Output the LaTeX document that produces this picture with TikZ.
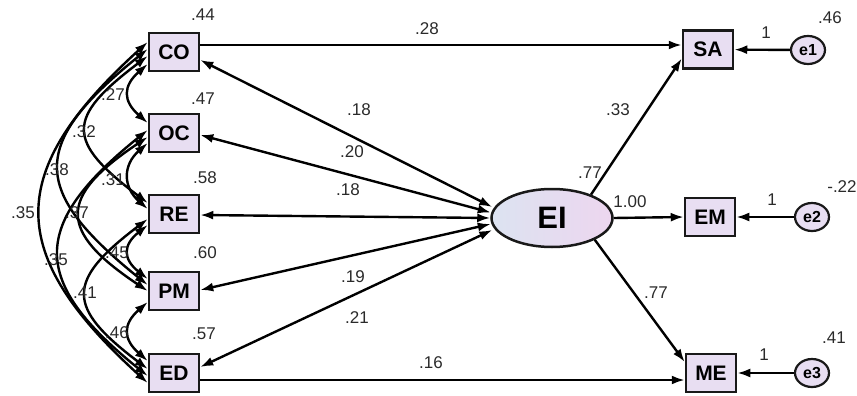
\documentclass[tikz,border=0pt]{standalone}
\usepackage{fontspec}
\setmainfont{Liberation Sans}
\usetikzlibrary{arrows.meta,shapes.geometric,calc}
\definecolor{boxfill}{HTML}{E8DEF2}
\definecolor{eileft}{HTML}{DCE3F1}
\definecolor{eiright}{HTML}{EDD6EF}
\definecolor{numcol}{HTML}{2A2A2A}
\tikzset{
  var/.style={draw=black!90,line width=2.5pt,fill=boxfill,minimum width=50pt,minimum height=38pt,inner sep=0pt,font=\fontsize{21}{21}\selectfont\bfseries},
  errc/.style={ellipse,draw=black!90,line width=2.2pt,fill=boxfill,minimum width=34pt,minimum height=28pt,inner sep=0pt,font=\fontsize{16}{16}\selectfont\bfseries},
  num/.style={font=\fontsize{17}{17}\selectfont,text=numcol,inner sep=0pt},
  tip/.tip={Latex[length=13pt,width=9pt]},
  path1/.style={line width=2.4pt,-tip},
  cov/.style={line width=2.4pt,tip-tip},
}
\begin{document}
\begin{tikzpicture}[x=1pt,y=-1pt]
\useasboundingbox (0,0) rectangle (857,396);
% observed variables
\node[var] (CO) at (174,52) {CO};
\node[var] (OC) at (174,133) {OC};
\node[var] (RE) at (174,214) {RE};
\node[var] (PM) at (174,291) {PM};
\node[var] (ED) at (174,373) {ED};
\node[var] (SA) at (708,49.5) {SA};
\node[var] (EM) at (710,217) {EM};
\node[var] (ME) at (711,373) {ME};
\node[ellipse,draw=black!90,line width=2.5pt,left color=eileft,right color=eiright,minimum width=121pt,minimum height=58pt,inner sep=0pt,font=\fontsize{31}{31}\selectfont\bfseries] (EI) at (552,218) {EI};
\node[errc] (e1) at (808,50) {e1};
\node[errc] (e2) at (812,217) {e2};
\node[errc] (e3) at (812,373) {e3};

% covariances among left variables
\draw[cov] ($(CO.west)+(0,12)$) .. controls +(-25,22) and +(-25,-22) .. ($(OC.west)+(0,-10)$);
\draw[cov] ($(OC.west)+(0,10)$) .. controls +(-25,22) and +(-25,-22) .. ($(RE.west)+(0,-5)$);
\draw[cov] ($(RE.west)+(0,11)$) .. controls +(-25,20) and +(-25,-20) .. ($(PM.west)+(0,-12)$);
\draw[cov] ($(PM.west)+(0,11)$) .. controls +(-25,22) and +(-25,-22) .. ($(ED.west)+(0,-12)$);
\draw[cov] ($(CO.west)+(0,4)$) .. controls +(-82,62) and +(-82,-62) .. ($(RE.west)+(0,-11)$);
\draw[cov] ($(OC.west)+(0,4)$) .. controls +(-90,60) and +(-90,-60) .. ($(PM.west)+(0,0)$);
\draw[cov] ($(RE.west)+(0,5)$) .. controls +(-82,62) and +(-82,-62) .. ($(ED.west)+(0,-4)$);
\draw[cov] ($(CO.west)+(0,-3)$) .. controls +(-118,95) and +(-118,-95) .. ($(PM.west)+(0,-6)$);
\draw[cov] ($(OC.west)+(0,-3)$) .. controls +(-118,95) and +(-118,-95) .. ($(ED.west)+(0,3)$);
\draw[cov] ($(CO.west)+(0,-10)$) .. controls +(-143,130) and +(-143,-130) .. ($(ED.west)+(0,10)$);

% covariances with EI
\draw[cov] ($(CO.east)+(0,8)$) -- ($(EI.west)+(2,-11)$);
\draw[cov] ($(OC.east)+(0,2)$) -- ($(EI.west)+(0.5,-5.5)$);
\draw[cov] ($(RE.east)+(0,1)$) -- ($(EI.west)+(0,0)$);
\draw[cov] ($(PM.east)+(0,-1)$) -- ($(EI.west)+(0.5,6)$);
\draw[cov] ($(ED.east)+(0,-6)$) -- ($(EI.west)+(2,12)$);

% regressions
\draw[path1] ($(CO.east)+(0,-7)$) -- ($(SA.west)+(0,-4.5)$);
\draw[path1] ($(ED.east)+(0,7)$) -- ($(ME.west)+(0,7)$);
\draw[path1] (EI.31) -- ($(SA.west)+(0,9)$);
\draw[path1] (EI.east) -- (EM.west);
\draw[path1] (EI.-27) -- ($(ME.west)+(0,-11)$);
\draw[path1] (e1) -- (SA);
\draw[path1] (e2) -- (EM);
\draw[path1] (e3) -- (ME);

% numbers
\node[num] (n1) at (203,15) {.44};
\node[num] (n2) at (203,99) {.47};
\node[num] (n3) at (205,178) {.58};
\node[num] (n4) at (205,253) {.60};
\node[num] (n5) at (204,334) {.57};
\node[num] (n6) at (113,95) {.27};
\node[num] (n7) at (84,132) {.32};
\node[num] (n8) at (57,170) {.38};
\node[num] (n9) at (23,213) {.35};
\node[num] (n10) at (77,213) {.37};
\node[num] (n11) at (113,180) {.31};
\node[num] (n12) at (117,253) {.45};
\node[num] (n13) at (56,260) {.35};
\node[num] (n14) at (85,293) {.41};
\node[num] (n15) at (117,333) {.46};
\node[num] (n16) at (427,29) {.28};
\node[num] (n17) at (359,110) {.18};
\node[num] (n18) at (352,152) {.20};
\node[num] (n19) at (348,190) {.18};
\node[num] (n20) at (353,277) {.19};
\node[num] (n21) at (357,318) {.21};
\node[num] (n22) at (431,363) {.16};
\node[num] (n23) at (618,110) {.33};
\node[num] (n24) at (590,173) {.77};
\node[num] (n25) at (630,202) {1.00};
\node[num] (n26) at (656,293) {.77};
\node[num] (n27) at (830,18) {.46};
\node[num] (n28) at (766,33) {1};
\node[num] (n29) at (842,187) {-.22};
\node[num] (n30) at (772,200) {1};
\node[num] (n31) at (834,338) {.41};
\node[num] (n32) at (764,355) {1};
\end{tikzpicture}
\end{document}
